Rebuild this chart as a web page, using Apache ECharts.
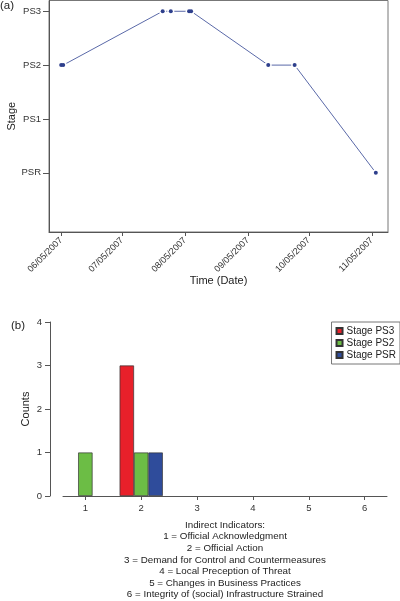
<!DOCTYPE html>
<html>
<head>
<meta charset="utf-8">
<script src="https://cdn.jsdelivr.net/npm/echarts@6/dist/echarts.min.js"></script>
<style>
html,body{margin:0;padding:0;background:#fff;}
#chart{width:400px;height:601px;}
</style>
</head>
<body>
<div id="chart"></div>
<script>
// ---- Panel (a) data ----
const stageLabels = ['PSR', 'PS1', 'PS2', 'PS3'];
const obsDates = ['2007-06-05', '2007-06-06', '2007-07-25', '2007-07-29', '2007-08-07', '2007-08-08', '2007-09-15', '2007-09-28', '2007-11-07'];
const obsStages = ['PS2', 'PS2', 'PS3', 'PS3', 'PS3', 'PS3', 'PS2', 'PS2', 'PSR'];
const dateTicks = ['2007-06-05', '2007-07-05', '2007-08-05', '2007-09-05', '2007-10-05', '2007-11-05'];

// ---- Panel (b) data ----
const indicators = [1, 2, 3, 4, 5, 6];
const countsPS3 = [0, 3, 0, 0, 0, 0];
const countsPS2 = [1, 1, 0, 0, 0, 0];
const countsPSR = [0, 1, 0, 0, 0, 0];
const captionLines = [
  'Indirect Indicators:',
  '1 = Official Acknowledgment',
  '2 = Official Action',
  '3 = Demand for Control and Countermeasures',
  '4 = Local Preception of Threat',
  '5 = Changes in Business Practices',
  '6 = Integrity of (social) Infrastructure Strained'
];

const FONT = '"Liberation Sans", Arial, Helvetica, sans-serif';
const DAY = 86400000;
const YEAR0 = Date.UTC(2007, 0, 1);
// day index since 2007-01-01 (keeps axis numbers small so extents are not rounded)
function toDay(s) { const p = s.split('-').map(Number); return (Date.UTC(p[0], p[1] - 1, p[2]) - YEAR0) / DAY; }
function pad(n) { return (n < 10 ? '0' : '') + n; }
function fmtDay(v) { const d = new Date(YEAR0 + Math.round(v) * DAY); return pad(d.getUTCMonth() + 1) + '/' + pad(d.getUTCDate()) + '/' + d.getUTCFullYear(); }
function barData(vals) { return indicators.map((x, i) => [x, vals[i] === 0 ? '-' : vals[i]]); }

const stagePoints = obsDates.map((d, i) => [toDay(d), stageLabels.indexOf(obsStages[i])]);
const tickDays = dateTicks.map(toDay);
const stageTicks = stageLabels.map((s, i) => i);

const chart = echarts.init(document.getElementById('chart'), null, { renderer: 'canvas' });

const graphicEls = [
  { type: 'text', left: 0, top: 0, style: { text: '(a)', font: '11.5px ' + FONT, fill: '#222' } },
  { type: 'text', left: 11, top: 320, style: { text: '(b)', font: '11.5px ' + FONT, fill: '#222' } }
];
captionLines.forEach((t, i) => {
  graphicEls.push({ type: 'text', x: 225, y: 525 + i * 11.6, style: { text: t, font: '9.8px ' + FONT, fill: '#222', align: 'center', verticalAlign: 'middle' } });
});

chart.setOption({
  animation: false,
  textStyle: { fontFamily: FONT },
  grid: [
    { left: 49, right: 12, top: 0.5, bottom: 369, show: true, borderColor: '#777', borderWidth: 1, containLabel: false, outerBoundsMode: 'none' },
    { left: 63, right: 13, top: 322, bottom: 105, containLabel: false, outerBoundsMode: 'none' }
  ],
  legend: {
    data: ['Stage PS3', 'Stage PS2', 'Stage PSR'],
    orient: 'vertical',
    right: 0, top: 322,
    itemWidth: 6, itemHeight: 6, itemGap: 2,
    padding: [4, 4, 4, 4],
    borderColor: '#777', borderWidth: 1,
    icon: 'rect',
    textStyle: { fontSize: 10, color: '#222', padding: [0, 0, 0, -1] }
  },
  xAxis: [
    {
      type: 'value', gridIndex: 0,
      min: 149, max: 316,
      name: 'Time (Date)', nameLocation: 'middle', nameGap: 43, nameMoveOverlap: false,
      nameTextStyle: { fontSize: 11, color: '#222' },
      axisLine: { show: true, onZero: false, lineStyle: { color: '#555', width: 1 } },
      axisTick: { show: true, inside: false, length: 4, customValues: tickDays, lineStyle: { color: '#555' } },
      axisLabel: { customValues: tickDays, rotate: 45, fontSize: 9, color: '#333', margin: 7, formatter: fmtDay, hideOverlap: false },
      splitLine: { show: false }
    },
    {
      type: 'value', gridIndex: 1, min: 0.6, max: 6.4,
      axisLine: { show: true, onZero: false, lineStyle: { color: '#555', width: 1 } },
      axisTick: { show: true, inside: false, length: 4, customValues: indicators, lineStyle: { color: '#555' } },
      axisLabel: { customValues: indicators, fontSize: 9.5, color: '#333', margin: 7 },
      splitLine: { show: false }
    }
  ],
  yAxis: [
    {
      type: 'value', gridIndex: 0, min: -1.1, max: 3.2,
      name: 'Stage', nameLocation: 'middle', nameGap: 32, nameMoveOverlap: false,
      nameTextStyle: { fontSize: 11, color: '#222' },
      axisLine: { show: true, onZero: false, lineStyle: { color: '#555', width: 1 } },
      axisTick: { show: true, inside: false, length: 6, customValues: stageTicks, lineStyle: { color: '#555' } },
      axisLabel: { customValues: stageTicks, inside: false, fontSize: 9.5, color: '#333', margin: 8, formatter: v => stageLabels[Math.round(v)] },
      splitLine: { show: false }
    },
    {
      type: 'value', gridIndex: 1, min: 0, max: 4, interval: 1, offset: 13,
      name: 'Counts', nameLocation: 'middle', nameGap: 19, nameMoveOverlap: false,
      nameTextStyle: { fontSize: 11, color: '#222' },
      axisLine: { show: true, lineStyle: { color: '#555', width: 1 } },
      axisTick: { show: true, inside: false, length: 5, lineStyle: { color: '#555' } },
      axisLabel: { fontSize: 9.5, color: '#333', margin: 8 },
      splitLine: { show: false }
    }
  ],
  series: [
    {
      type: 'line', xAxisIndex: 0, yAxisIndex: 0, data: stagePoints,
      showSymbol: false, symbol: 'none', lineStyle: { color: '#5a69a8', width: 1 }, z: 1, silent: true
    },
    {
      type: 'scatter', xAxisIndex: 0, yAxisIndex: 0, data: stagePoints,
      symbol: 'circle', symbolSize: 7, itemStyle: { color: '#fff', opacity: 1 }, z: 2, silent: true
    },
    {
      type: 'scatter', xAxisIndex: 0, yAxisIndex: 0, data: stagePoints,
      symbol: 'circle', symbolSize: 4, itemStyle: { color: '#2e3f8c', opacity: 1 }, z: 3
    },
    {
      name: 'Stage PS3', type: 'bar', xAxisIndex: 1, yAxisIndex: 1,
      data: barData(countsPS3),
      barWidth: 14.4, barGap: '0%',
      itemStyle: { color: '#e8202a', borderColor: '#333', borderWidth: 0.7 }
    },
    {
      name: 'Stage PS2', type: 'bar', xAxisIndex: 1, yAxisIndex: 1,
      data: barData(countsPS2),
      barWidth: 14.4, barGap: '0%',
      itemStyle: { color: '#6cbd45', borderColor: '#333', borderWidth: 0.7 }
    },
    {
      name: 'Stage PSR', type: 'bar', xAxisIndex: 1, yAxisIndex: 1,
      data: barData(countsPSR),
      barWidth: 14.4, barGap: '0%',
      itemStyle: { color: '#2f4c9b', borderColor: '#333', borderWidth: 0.7 }
    }
  ],
  graphic: graphicEls
});
</script>
</body>
</html>
